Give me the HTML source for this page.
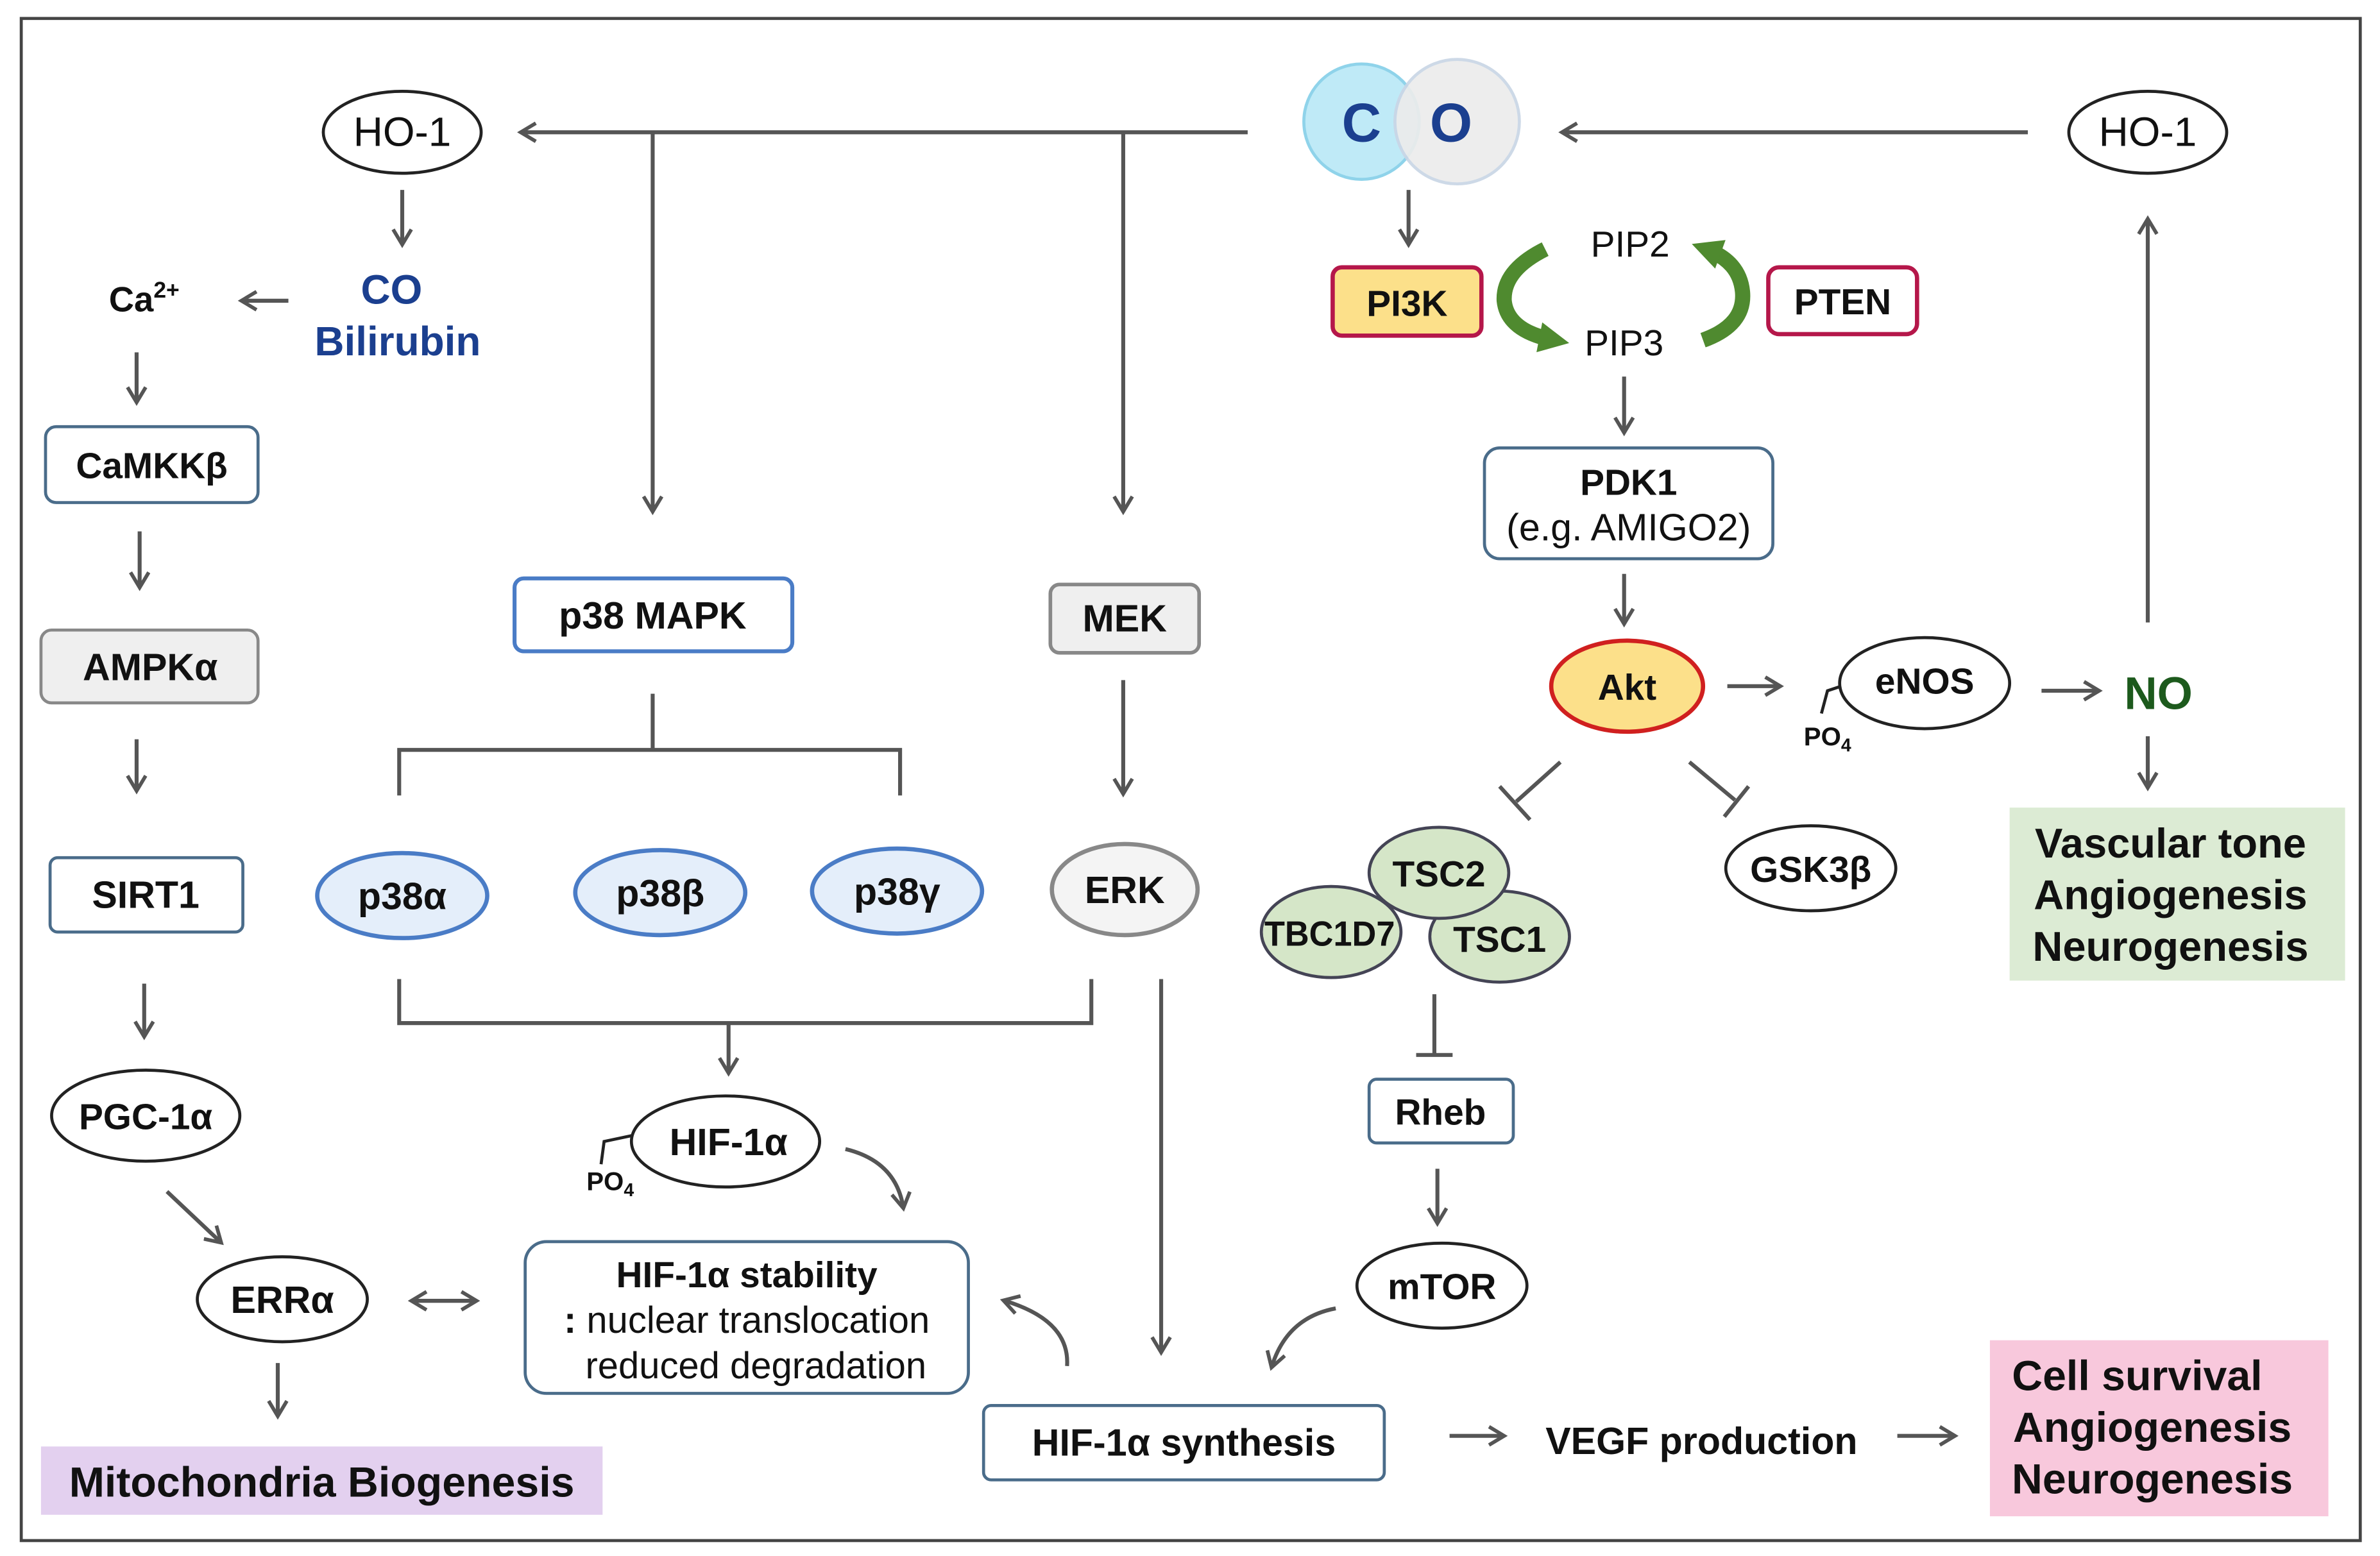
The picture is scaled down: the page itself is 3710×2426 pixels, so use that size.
<!DOCTYPE html>
<html><head><meta charset="utf-8"><style>
html,body{margin:0;padding:0;background:#fff;}
svg{display:block;}
text{font-family:"Liberation Sans",Arial,sans-serif;}
.b{font-weight:bold;}
</style></head><body>
<svg width="3710" height="2426" viewBox="0 0 1568 1025" xmlns="http://www.w3.org/2000/svg">
<defs>
<marker id="a2" markerWidth="14" markerHeight="14" refX="10" refY="7" orient="auto" markerUnits="userSpaceOnUse" viewBox="0 0 14 14">
<path d="M1,1 L11,7 L1,13" fill="none" stroke="#555" stroke-width="2.4"/></marker>
<marker id="as" markerWidth="14" markerHeight="14" refX="4" refY="7" orient="auto" markerUnits="userSpaceOnUse" viewBox="0 0 14 14">
<path d="M13,1 L3,7 L13,13" fill="none" stroke="#555" stroke-width="2.4"/></marker>
<marker id="g" markerWidth="24" markerHeight="24" refX="12" refY="12" orient="auto" markerUnits="userSpaceOnUse" viewBox="0 0 24 24">
<path d="M2,2 L22,12 L2,22 Z" fill="#4f8a2f"/></marker>
</defs>
<rect x="0" y="0" width="1568" height="1025" fill="#fff"/>
<rect x="14" y="12" width="1541" height="1003" fill="none" stroke="#444" stroke-width="2"/>

<g stroke="#555" stroke-width="2.6" fill="none">
<line x1="822" y1="87" x2="344" y2="87" marker-end="url(#a2)"/>
<line x1="430" y1="87" x2="430" y2="336" marker-end="url(#a2)"/>
<line x1="740" y1="87" x2="740" y2="336" marker-end="url(#a2)"/>
<line x1="1336" y1="87" x2="1030" y2="87" marker-end="url(#a2)"/>
<line x1="1415" y1="410" x2="1415" y2="145" marker-end="url(#a2)"/>
<line x1="265" y1="125" x2="265" y2="160" marker-end="url(#a2)"/>
<line x1="190" y1="198" x2="160" y2="198" marker-end="url(#a2)"/>
<line x1="90" y1="232" x2="90" y2="264" marker-end="url(#a2)"/>
<line x1="92" y1="350" x2="92" y2="386" marker-end="url(#a2)"/>
<line x1="90" y1="487" x2="90" y2="520" marker-end="url(#a2)"/>
<line x1="95" y1="648" x2="95" y2="682" marker-end="url(#a2)"/>
<line x1="110" y1="785" x2="145" y2="818" marker-end="url(#a2)"/>
<line x1="272" y1="857" x2="313" y2="857" marker-end="url(#a2)" marker-start="url(#as)"/>
<line x1="183" y1="898" x2="183" y2="932" marker-end="url(#a2)"/>
<path d="M430,457 V494 M263,524 V494 H593 V524"/>
<line x1="740" y1="448" x2="740" y2="522" marker-end="url(#a2)"/>
<path d="M263,645 V674 H719 V645"/>
<line x1="480" y1="674" x2="480" y2="706" marker-end="url(#a2)"/>
<path d="M557,757 Q590,765 595,795" marker-end="url(#a2)"/>
<line x1="765" y1="645" x2="765" y2="890" marker-end="url(#a2)"/>
<path d="M703,900 Q705,870 662,857" marker-end="url(#a2)"/>
<path d="M880,862 Q848,868 838,900" marker-end="url(#a2)"/>
<line x1="955" y1="946" x2="990" y2="946" marker-end="url(#a2)"/>
<line x1="1250" y1="946" x2="1287" y2="946" marker-end="url(#a2)"/>
<line x1="928" y1="125" x2="928" y2="160" marker-end="url(#a2)"/>
<line x1="1070" y1="248" x2="1070" y2="284" marker-end="url(#a2)"/>
<line x1="1070" y1="378" x2="1070" y2="410" marker-end="url(#a2)"/>
<line x1="1138" y1="452" x2="1172" y2="452" marker-end="url(#a2)"/>
<line x1="1345" y1="455" x2="1382" y2="455" marker-end="url(#a2)"/>
<line x1="1415" y1="485" x2="1415" y2="518" marker-end="url(#a2)"/>
<path d="M1028,502 L999,528 M988,518 L1008,540"/>
<path d="M1113,502 L1143,527 M1136,538 L1152,518"/>
<path d="M945,655 V695 M933,695 H957"/>
<line x1="947" y1="770" x2="947" y2="805" marker-end="url(#a2)"/>
</g>

<g fill="none" stroke="#4f8a2f" stroke-width="10">
<path d="M1018,164 Q990,178 991,198 Q993,218 1024,224" marker-end="url(#g)"/>
<path d="M1122,224 Q1150,214 1148,192 Q1146,172 1124,164" marker-end="url(#g)"/>
</g>

<circle cx="897" cy="80" r="38" fill="#bfeaf7" stroke="#8fd3ea" stroke-width="2"/>
<circle cx="960" cy="80" r="41" fill="#ececec" stroke="#c9d6e6" stroke-width="2" opacity="0.92"/>
<text x="897" y="93" font-size="36" class="b" fill="#1b3f8f" text-anchor="middle">C</text>
<text x="956" y="93" font-size="36" class="b" fill="#1b3f8f" text-anchor="middle">O</text>

<g stroke-width="2">
<ellipse cx="265" cy="87" rx="52" ry="27" fill="#fff" stroke="#222"/>
<ellipse cx="1415" cy="87" rx="52" ry="27" fill="#fff" stroke="#222"/>
<rect x="30" y="281" width="140" height="50" rx="7" fill="#fff" stroke="#4a6c8a"/>
<rect x="27" y="415" width="143" height="48" rx="7" fill="#efefef" stroke="#888"/>
<rect x="33" y="565" width="127" height="49" rx="5" fill="#fff" stroke="#4a6c8a"/>
<ellipse cx="96" cy="735" rx="62" ry="30" fill="#fff" stroke="#222"/>
<ellipse cx="186" cy="856" rx="56" ry="28" fill="#fff" stroke="#222"/>
<rect x="339" y="381" width="183" height="48" rx="6" fill="#fff" stroke="#4a7cc6" stroke-width="2.6"/>
<rect x="692" y="385" width="98" height="45" rx="6" fill="#efefef" stroke="#888" stroke-width="2.4"/>
<ellipse cx="265" cy="590" rx="56" ry="28" fill="#e4eefa" stroke="#4a7cc6" stroke-width="2.8"/>
<ellipse cx="435" cy="588" rx="56" ry="28" fill="#e4eefa" stroke="#4a7cc6" stroke-width="2.8"/>
<ellipse cx="591" cy="587" rx="56" ry="28" fill="#e4eefa" stroke="#4a7cc6" stroke-width="2.8"/>
<ellipse cx="741" cy="586" rx="48" ry="30" fill="#f4f4f4" stroke="#888" stroke-width="2.8"/>
<ellipse cx="478" cy="752" rx="62" ry="30" fill="#fff" stroke="#222"/>
<rect x="346" y="818" width="292" height="100" rx="14" fill="#fff" stroke="#4a6c8a"/>
<rect x="648" y="926" width="264" height="49" rx="5" fill="#fff" stroke="#4a6c8a"/>
<ellipse cx="950" cy="847" rx="56" ry="28" fill="#fff" stroke="#222"/>
<rect x="878" y="176" width="98" height="45" rx="6" fill="#fce08a" stroke="#b5174a" stroke-width="2.8"/>
<rect x="1165" y="176" width="98" height="44" rx="7" fill="#fff" stroke="#b5174a" stroke-width="2.8"/>
<rect x="978" y="295" width="190" height="73" rx="10" fill="#fff" stroke="#4a6c8a"/>
<ellipse cx="1072" cy="452" rx="50" ry="30" fill="#fce08a" stroke="#d0201f" stroke-width="2.8"/>
<ellipse cx="1268" cy="450" rx="56" ry="30" fill="#fff" stroke="#222"/>
<ellipse cx="1193" cy="572" rx="56" ry="28" fill="#fff" stroke="#222"/>
<ellipse cx="877" cy="614" rx="46" ry="30" fill="#d5e6c8" stroke="#445"/>
<ellipse cx="988" cy="617" rx="46" ry="30" fill="#d5e6c8" stroke="#445"/>
<ellipse cx="948" cy="575" rx="46" ry="30" fill="#d5e6c8" stroke="#445"/>
<rect x="902" y="711" width="95" height="42" rx="5" fill="#fff" stroke="#4a6c8a"/>
</g>
<rect x="27" y="953" width="370" height="45" fill="#e3d0ef"/>
<rect x="1324" y="532" width="221" height="114" fill="#dcebd4"/>
<rect x="1311" y="883" width="223" height="116" fill="#f8c8dc"/>

<g stroke="#222" stroke-width="2" fill="none">
<path d="M417,748 L398,752 L396,767"/>
<path d="M1213,452 L1204,455 L1200,470"/>
</g>

<g font-size="25" fill="#111" text-anchor="middle">
<text x="265" y="96" font-size="27">HO-1</text>
<text x="1415" y="96" font-size="27">HO-1</text>
<text x="258" y="200" class="b" fill="#1b3f8f" font-size="27">CO</text>
<text x="262" y="234" class="b" fill="#1b3f8f" font-size="27">Bilirubin</text>
<text x="95" y="205" class="b" font-size="23">Ca<tspan font-size="15" dy="-9">2+</tspan></text>
<text x="100" y="315" class="b" font-size="24">CaMKKβ</text>
<text x="99" y="448" class="b">AMPKα</text>
<text x="96" y="598" class="b">SIRT1</text>
<text x="96" y="744" class="b" font-size="24">PGC-1α</text>
<text x="186" y="865" class="b">ERRα</text>
<text x="212" y="986" class="b" font-size="28">Mitochondria Biogenesis</text>
<text x="430" y="414" class="b">p38 MAPK</text>
<text x="741" y="416" class="b">MEK</text>
<text x="265" y="599" class="b">p38α</text>
<text x="435" y="597" class="b">p38β</text>
<text x="591" y="596" class="b">p38γ</text>
<text x="741" y="595" class="b">ERK</text>
<text x="480" y="761" class="b">HIF-1α</text>
<text x="402" y="784" class="b" font-size="17">PO<tspan font-size="12" dy="4">4</tspan></text>
<text x="492" y="848" class="b" font-size="24">HIF-1α stability</text>
<text x="492" y="878" font-size="24.5"><tspan class="b">: </tspan>nuclear translocation</text>
<text x="498" y="908" font-size="24.5">reduced degradation</text>
<text x="780" y="959" class="b">HIF-1α synthesis</text>
<text x="1121" y="958" class="b">VEGF production</text>
<text x="950" y="856" class="b" font-size="24">mTOR</text>
<text x="949" y="741" class="b" font-size="24">Rheb</text>
<text x="948" y="584" class="b" font-size="24">TSC2</text>
<text x="876" y="623" class="b" font-size="23" textLength="86" lengthAdjust="spacingAndGlyphs">TBC1D7</text>
<text x="988" y="627" class="b" font-size="24">TSC1</text>
<text x="1193" y="581" class="b" font-size="24">GSK3β</text>
<text x="927" y="208" class="b" font-size="24">PI3K</text>
<text x="1214" y="207" class="b" font-size="24">PTEN</text>
<text x="1074" y="169" font-size="24">PIP2</text>
<text x="1070" y="234" font-size="24">PIP3</text>
<text x="1073" y="326" class="b" font-size="24">PDK1</text>
<text x="1073" y="356" font-size="25">(e.g. AMIGO2)</text>
<text x="1072" y="461" class="b" font-size="24">Akt</text>
<text x="1268" y="457" class="b" font-size="24">eNOS</text>
<text x="1204" y="491" class="b" font-size="17">PO<tspan font-size="12" dy="4">4</tspan></text>
<text x="1422" y="467" class="b" fill="#1d5a1d" font-size="30">NO</text>
<text x="1430" y="565" class="b" font-size="27.5">Vascular tone</text>
<text x="1430" y="599" class="b" font-size="27.5">Angiogenesis</text>
<text x="1430" y="633" class="b" font-size="27.5">Neurogenesis</text>
<text x="1408" y="916" class="b" font-size="28">Cell survival</text>
<text x="1418" y="950" class="b" font-size="28">Angiogenesis</text>
<text x="1418" y="984" class="b" font-size="28">Neurogenesis</text>
</g>
</svg>
</body></html>
